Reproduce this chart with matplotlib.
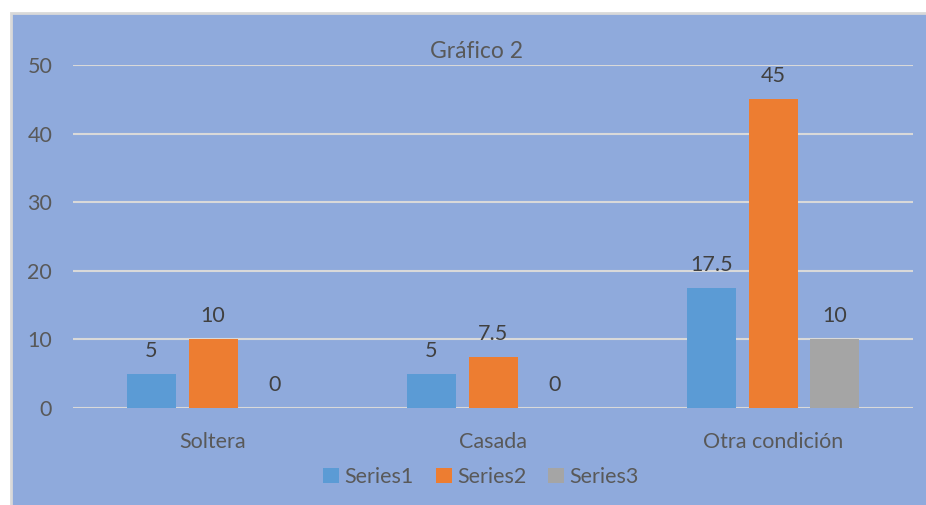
import matplotlib
matplotlib.use("Agg")
import matplotlib.pyplot as plt
from matplotlib.patches import Rectangle
import numpy as np

categories = ["Soltera", "Casada", "Otra condición"]
series_names = ["Series1", "Series2", "Series3"]
series1 = [5, 5, 17.5]
series2 = [10, 7.5, 45]
series3 = [0, 0, 10]
yticks = [0, 10, 20, 30, 40, 50]

colors = ["#5B9BD5", "#ED7D31", "#A5A5A5"]
bg = "#8FAADC"
txt = "#595959"
lbl = "#404040"

plt.rcParams['font.family'] = ['Lato', 'DejaVu Sans']

fig = plt.figure(figsize=(9.26, 5.05), dpi=100)
fig.patch.set_facecolor("white")
rect = Rectangle((11/926, -0.01), 1.01 - 11/926, 1.01 - 13/505, transform=fig.transFigure,
                 facecolor=bg, edgecolor="#D9D9D9", linewidth=2, zorder=-10)
fig.add_artist(rect)

ax = fig.add_axes([73/926, 1 - 408/505, (913 - 73)/926, (408 - 65)/505])
ax.set_facecolor("none")
ax.set_xlim(-0.5, 2.5)
ax.set_ylim(0, 50)

x = np.arange(len(categories))
w = 0.175
off = 0.221
all_series = [series1, series2, series3]
for i, (vals, name, c) in enumerate(zip(all_series, series_names, colors)):
    pos = x + (i - 1) * off
    ax.bar(pos, vals, width=w, color=c, label=name, zorder=3)
    for xp, v in zip(pos, vals):
        ax.annotate(f"{v:g}", (xp, v), xytext=(0, 16.5), textcoords="offset points",
                    ha="center", va="center", fontsize=15.5, color=lbl)

ax.set_yticks(yticks)
ax.set_xticks(x)
ax.set_xticklabels(categories)
ax.grid(axis="y", color="#D9D9D9", linewidth=1.5, zorder=1)
ax.set_axisbelow(True)
for s in ax.spines.values():
    s.set_visible(False)
ax.tick_params(axis="both", length=0, labelsize=15.5, colors=txt)
ax.tick_params(axis="x", pad=17)
ax.tick_params(axis="y", pad=15)

fig.text(476/926, 1 - 52/505, "Gráfico 2", ha="center", va="center", fontsize=16.5, color=txt)

leg = fig.legend(loc="center", bbox_to_anchor=(481/926, 1 - 477/505), ncol=3, frameon=False,
                 fontsize=15.5, handlelength=0.75, handleheight=0.75, handletextpad=0.25,
                 columnspacing=1.0, labelcolor=txt)

fig.savefig("out.png", dpi=100)
